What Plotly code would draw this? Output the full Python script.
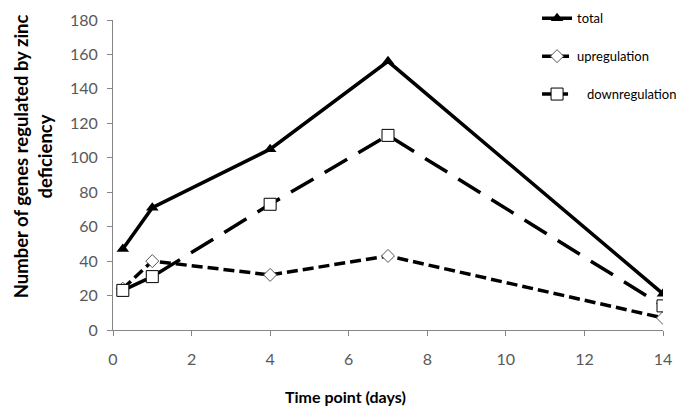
import plotly.graph_objects as go

days = [0.25, 1, 4, 7, 14]
total = [47, 71, 105, 156, 21]
upregulation = [24, 40, 32, 43, 7]
downregulation = [23, 31, 73, 113, 14]

fig = go.Figure()
fig.add_trace(go.Scatter(x=days, y=total, name="total", mode="lines+markers",
                         legendgroup="a",
                         line=dict(color="black", width=3.5),
                         marker=dict(symbol="triangle-up", size=11, color="black")))
fig.add_trace(go.Scatter(x=days, y=upregulation, name="upregulation", mode="lines+markers",
                         legendgroup="b",
                         line=dict(color="black", width=3.5, dash="11px,5px"),
                         marker=dict(symbol="diamond", size=10, color="white",
                                     line=dict(color="#555555", width=1))))
fig.add_trace(go.Scatter(x=days, y=downregulation, name="\u00a0\u00a0\u00a0downregulation",
                         mode="lines+markers", legendgroup="c",
                         line=dict(color="black", width=3.5, dash="26px,13px"),
                         marker=dict(symbol="square", size=12, color="white",
                                     line=dict(color="black", width=1))))

fig.add_annotation(text="<b>Number of genes regulated by zinc<br>deficiency</b>",
                   xref="paper", yref="paper", x=-0.145, y=0.527,
                   xanchor="center", yanchor="middle", textangle=-90,
                   showarrow=False, font=dict(family="Lato", size=18.5, color="black"))
fig.add_annotation(text="<b>Time point (days)</b>",
                   xref="paper", yref="paper", x=0.422, y=-0.203,
                   xanchor="center", yanchor="middle",
                   showarrow=False, font=dict(family="Lato", size=16, color="black"))

fig.update_layout(
    width=685, height=416,
    margin=dict(l=113, r=22, t=0, b=86),
    paper_bgcolor="white", plot_bgcolor="white",
    font=dict(family="Lato", color="#595959", size=16),
    showlegend=True,
    legend=dict(x=0.771, y=0.99, xanchor="left", yanchor="top",
                tracegroupgap=18, traceorder="grouped",
                font=dict(size=13, color="black"), bgcolor="rgba(0,0,0,0)"),
    xaxis=dict(range=[0, 14], tick0=0, dtick=2, showline=True, linecolor="#868686",
               ticks="outside", ticklen=5, tickcolor="#868686", showgrid=False,
               zeroline=False, automargin=False, ticklabelstandoff=10),
    yaxis=dict(range=[0, 180], tick0=0, dtick=20, showline=True, linecolor="#868686",
               ticks="outside", ticklen=5, tickcolor="#868686", showgrid=False,
               zeroline=False, automargin=False, domain=[0, 310 / 330],
               ticklabelstandoff=6),
)
fig.write_html("out.html", config={"displayModeBar": False},
               post_script="document.body.style.margin='0';document.body.style.overflow='hidden';")
